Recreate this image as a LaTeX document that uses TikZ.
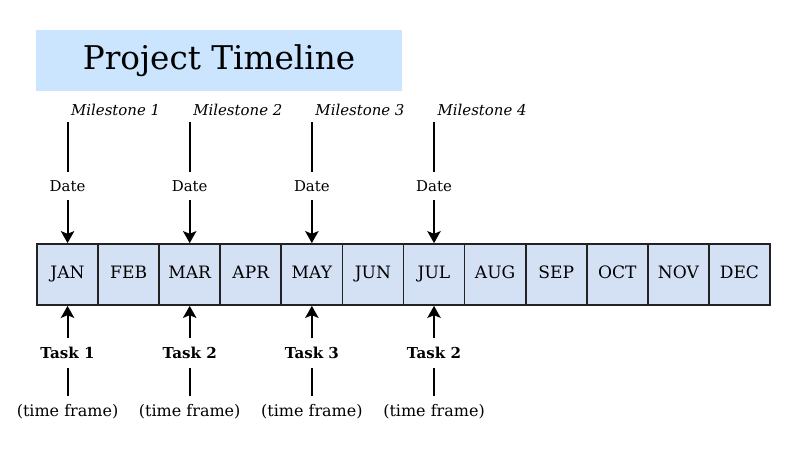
\documentclass[tikz,border=0pt]{standalone}
\usepackage{fontspec}
\setmainfont{DejaVu Serif}
\usetikzlibrary{arrows.meta}

\definecolor{titlebg}{HTML}{CCE5FF}
\definecolor{monthbg}{HTML}{D4E1F5}
\definecolor{boxline}{HTML}{222222}

\tikzset{
  month/.style={draw=boxline, line width=1.3pt, fill=monthbg,
    minimum width=45.81pt, minimum height=45.75pt, inner sep=0pt,
    text height=9.3pt, text depth=3pt,
    font=\fontsize{12.8}{14}\selectfont},
  mslabel/.style={anchor=base west, inner sep=0pt, font=\itshape\fontsize{11.2}{14}\selectfont},
  datelabel/.style={inner sep=6pt, font=\fontsize{11.2}{13}\selectfont},
  tasklabel/.style={inner sep=6.5pt, font=\bfseries\fontsize{11.3}{14}\selectfont},
  framelabel/.style={inner sep=6pt, font=\fontsize{12}{14}\selectfont},
  pointer/.style={line width=1.5pt, -{Stealth[length=9pt, width=10pt, inset=2pt]}},
}

\begin{document}
\begin{tikzpicture}[x=0.75pt, y=-0.75pt]
\useasboundingbox (0,0) rectangle (800,451);

% title
\node[fill=titlebg, minimum width=274.5pt, minimum height=45.75pt, inner sep=0pt,
  font=\fontsize{24.5}{30}\selectfont] (title) at (219,60.5) {Project Timeline};

% months
\foreach \m [count=\i] in {JAN,FEB,MAR,APR,MAY,JUN,JUL,AUG,SEP,OCT,NOV,DEC}
  \node[month] (\m) at ({37+61.08*(\i-0.5)},274.5) {\m};

% milestones
\foreach \m/\k in {JAN/1,MAR/2,MAY/3,JUL/4} {
  \coordinate (mtop\k) at (\m |- 0,122);
  \node[mslabel] (ms\k) at ([xshift=2.5pt]\m |- 0,115) {Milestone \k};
  \node[datelabel] (date\k) at (\m |- 0,186) {Date};
  \draw[line width=1.5pt] (mtop\k) -- (date\k);
  \draw[pointer] (date\k) -- (\m.north);
}

% tasks
\foreach \m/\t [count=\k] in {JAN/1,MAR/2,MAY/3,JUL/2} {
  \node[framelabel] (frame\k) at (\m |- 0,412) {(time frame)};
  \node[tasklabel] (task\k) at (\m |- 0,353) {Task \t};
  \draw[line width=1.5pt] (frame\k) -- (task\k);
  \draw[pointer] (task\k) -- (\m.south);
}

\end{tikzpicture}
\end{document}
